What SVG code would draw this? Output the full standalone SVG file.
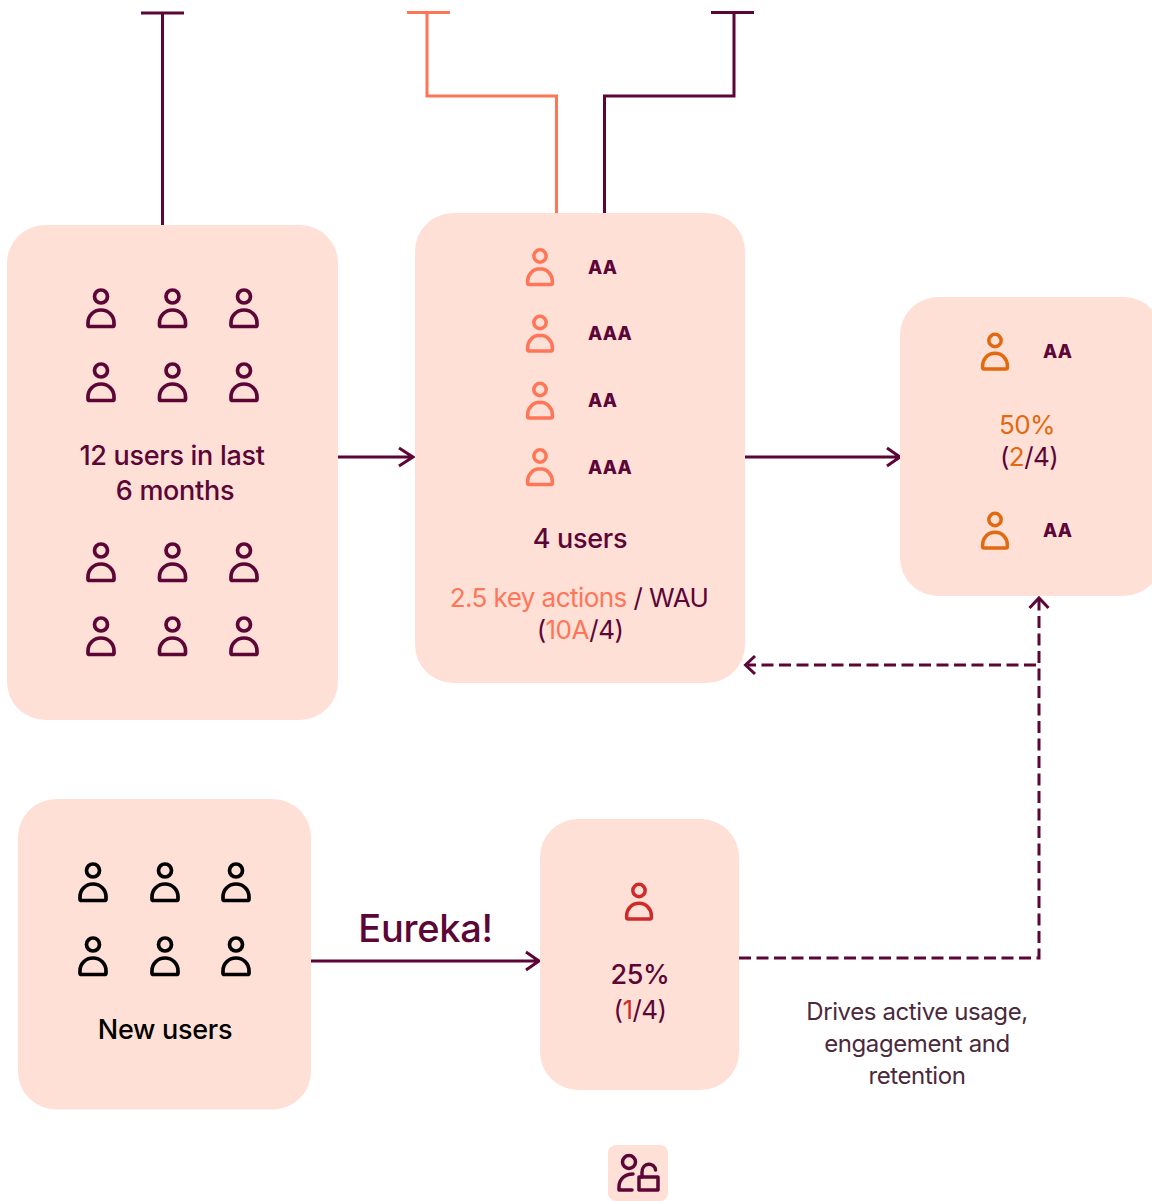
<svg xmlns="http://www.w3.org/2000/svg" xmlns:xlink="http://www.w3.org/1999/xlink" width="1152" height="1201" viewBox="0 0 1152 1201">
<style>
.box{fill:#ffe0d6}
text{font-family:"Inter","Liberation Sans",sans-serif;font-size:27px;fill:#5c0537;text-anchor:middle;letter-spacing:-.3px}
.m{font-weight:500}
.r{font-weight:400;font-size:26px;letter-spacing:-.55px}
.aa{font-size:18.500px;font-weight:800;text-anchor:start;letter-spacing:.2px}
.line{fill:none;stroke:#5c0537;stroke-width:3}
.dash{stroke-dasharray:12 5.5}
.c{stroke:#ff7558}
.p{fill:none;stroke-width:3.700;stroke:#5c0537}
.co{stroke:#ff7558}.or{stroke:#e2690f}.re{stroke:#cf2a2a}.bk{stroke:#000}
.d{font-size:24px;letter-spacing:-.4px;fill:#4a2a3c}
</style>
<defs>
<g id="person">
<circle cx="0" cy="0" r="6.500"/>
<path d="M0 13.500C-7.400 13.500-13 19.200-13 26.400V28.400Q-13 30-11.400 30H11.400Q13 30 13 28.400V26.400C13 19.200 7.400 13.500 0 13.500Z"/>
</g>
<g id="person2"><use href="#person" transform="scale(.95)"/></g>
</defs>
<g id="connectors">
<path class="line" d="M141 13H184M162.500 13V225"/>
<path class="line c" d="M407 12.500H450M427 13V96H556.500V213"/>
<path class="line" d="M711 12.500H754M734 13V96H604.500V213"/>
<path class="line" d="M338 457H413M399 448L413 457L399 466"/>
<path class="line" d="M745 457H899M887 448L900 457L887 466"/>
<path class="line" d="M311 961H538M526 952L539 961L526 970"/>
<path class="line dash" d="M739 958H1039V600"/>
<path class="line" d="M1029.500 608L1039 598L1048.500 608"/>
<path class="line dash" d="M1036 665H748"/>
<path class="line" d="M755 656L745.500 665L755 674"/>
</g>
<g id="node-12-users">
<rect class="box" x="7" y="225" width="331" height="495" rx="38"/>
<g class="p">
<use href="#person" x="101" y="296.500"/><use href="#person" x="172.500" y="296.500"/><use href="#person" x="244" y="296.500"/>
<use href="#person" x="101" y="370.500"/><use href="#person" x="172.500" y="370.500"/><use href="#person" x="244" y="370.500"/>
<use href="#person" x="101" y="550.500"/><use href="#person" x="172.500" y="550.500"/><use href="#person" x="244" y="550.500"/>
<use href="#person" x="101" y="624.500"/><use href="#person" x="172.500" y="624.500"/><use href="#person" x="244" y="624.500"/>
</g>
<text class="m" x="172" y="465">12 users in last</text>
<text class="m" x="175" y="500">6 months</text>
</g>
<g id="node-4-users">
<rect class="box" x="415" y="213" width="330" height="470" rx="38"/>
<g class="p co">
<use href="#person2" x="540" y="256"/><use href="#person2" x="540" y="322.500"/><use href="#person2" x="540" y="389.500"/><use href="#person2" x="540" y="456"/>
</g>
<text class="aa" x="588" y="274">AA</text>
<text class="aa" x="588" y="340">AAA</text>
<text class="aa" x="588" y="407">AA</text>
<text class="aa" x="588" y="474">AAA</text>
<text class="m" x="580" y="548">4 users</text>
<text class="r" x="579" y="607"><tspan fill="#ff7558">2.5 key actions</tspan> / WAU</text>
<text class="r" x="580" y="639">(<tspan fill="#ff7558">10A</tspan>/4)</text>
</g>
<g id="node-50">
<rect class="box" x="900" y="297" width="262" height="299" rx="38"/>
<g class="p or"><use href="#person2" x="995" y="340.500"/><use href="#person2" x="995" y="519.500"/></g>
<text class="aa" x="1043" y="358">AA</text>
<text class="aa" x="1043" y="537">AA</text>
<text class="r" x="1027" y="434" style="fill:#e2690f">50%</text>
<text class="r" x="1029" y="466">(<tspan fill="#e2690f">2</tspan>/4)</text>
</g>
<g id="node-new-users">
<rect class="box" x="18" y="799" width="293" height="310.500" rx="38"/>
<g class="p bk">
<use href="#person" x="93" y="870.500"/><use href="#person" x="165" y="870.500"/><use href="#person" x="236" y="870.500"/>
<use href="#person" x="93" y="944.500"/><use href="#person" x="165" y="944.500"/><use href="#person" x="236" y="944.500"/>
</g>
<text class="m" x="165" y="1039" style="fill:#000">New users</text>
</g>
<g id="node-25">
<rect class="box" x="540" y="819" width="199" height="271" rx="38"/>
<g class="p re"><use href="#person2" x="639" y="890.500"/></g>
<text class="m" x="640" y="984">25%</text>
<text class="r" x="640" y="1019">(<tspan fill="#cf2a2a">1</tspan>/4)</text>
</g>
<text id="label-eureka" class="m" x="425.500" y="942" style="font-size:38px;letter-spacing:-.3px">Eureka!</text>
<g id="label-drives">
<text class="d" x="917" y="1020">Drives active usage,</text>
<text class="d" x="917" y="1052">engagement and</text>
<text class="d" x="917" y="1084">retention</text>
</g>
<g id="node-icon">
<rect class="box" x="608" y="1145" width="60" height="56" rx="8"/>
<g fill="none" stroke="#5c0537" stroke-width="3.500" stroke-linecap="round" stroke-linejoin="round">
<circle cx="629" cy="1162" r="6.500"/>
<path d="M633 1174C625 1174 619 1179 619 1187V1190H632"/>
<rect x="639" y="1177" width="19" height="13"/>
<path d="M642 1177V1172C642 1162 655 1162 655.500 1170"/>
</g>
</g>
</svg>
